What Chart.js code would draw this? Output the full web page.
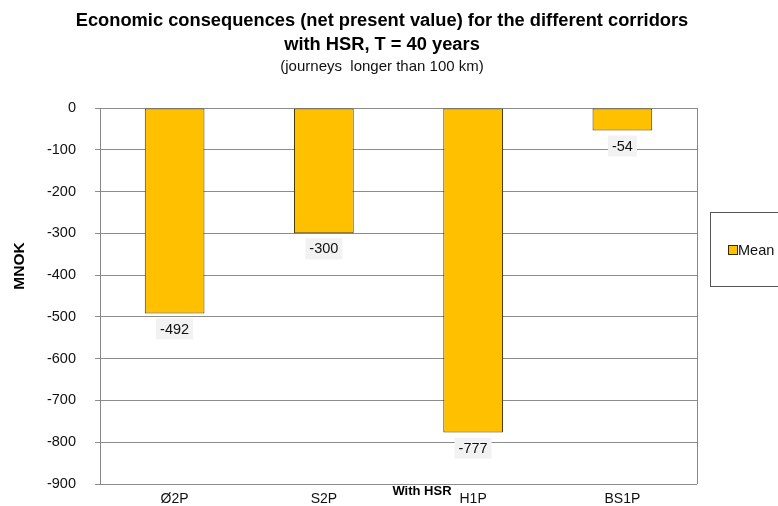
<!DOCTYPE html>
<html>
<head>
<meta charset="utf-8">
<script src="https://cdn.jsdelivr.net/npm/chart.js@4"></script>
<style>
  html, body { margin: 0; padding: 0; background: #fff; }
  #wrap { width: 778px; height: 506px; }
</style>
</head>
<body>
<div id="wrap"><canvas id="npvChart" width="778" height="506"></canvas></div>
<script>
// Données du graphique
const corridors = ["Ø2P", "S2P", "H1P", "BS1P"];
const meanValues = [-492, -300, -777, -54];
const seriesName = "Mean";
const titleLines = ["Economic consequences (net present value) for the different corridors", "with HSR, T = 40 years"];
const subtitleText = "(journeys  longer than 100 km)";

const FONT = "'Liberation Sans', Arial, sans-serif";

// Étiquettes de valeurs sous les barres (fond gris clair)
const valueLabels = {
    id: 'valueLabels',
    afterDatasetsDraw(chart) {
        const ctx = chart.ctx;
        const meta = chart.getDatasetMeta(0);
        ctx.save();
        ctx.font = "14.5px " + FONT;
        ctx.textAlign = 'center';
        ctx.textBaseline = 'middle';
        meta.data.forEach((bar, i) => {
            const txt = String(meanValues[i]);
            const w = ctx.measureText(txt).width + 8;
            const top = bar.y + 5;
            ctx.fillStyle = '#f2f2f2';
            ctx.fillRect(bar.x - w / 2, top, w, 21);
            ctx.fillStyle = '#111';
            ctx.fillText(txt, bar.x, top + 11);
        });
        ctx.restore();
    }
};

// Titres, cadre, légende et titres des axes
const extras = {
    id: 'extras',
    afterDraw(chart) {
        const ctx = chart.ctx;
        const a = chart.chartArea;
        ctx.save();
        // titre
        ctx.fillStyle = '#000';
        ctx.textAlign = 'center';
        ctx.textBaseline = 'middle';
        ctx.font = "bold 18.3px " + FONT;
        ctx.fillText(titleLines[0], 382, 21);
        ctx.fillText(titleLines[1], 382, 45);
        ctx.fillStyle = '#111';
        ctx.font = "15px " + FONT;
        ctx.fillText(subtitleText, 382, 67);

        // bordure droite du cadre
        ctx.strokeStyle = '#868686';
        ctx.lineWidth = 1;
        ctx.beginPath();
        ctx.moveTo(Math.round(a.right) + 0.5, a.top);
        ctx.lineTo(Math.round(a.right) + 0.5, a.bottom);
        ctx.stroke();

        // légende
        ctx.strokeStyle = '#555';
        ctx.strokeRect(710.5, 212.5, 80, 74);
        ctx.fillStyle = '#FFC000';
        ctx.fillRect(729, 246, 8, 8);
        ctx.strokeStyle = '#3a2a00';
        ctx.strokeRect(728.5, 245.5, 9, 9);
        ctx.fillStyle = '#111';
        ctx.font = "14.5px " + FONT;
        ctx.textAlign = 'left';
        ctx.fillText(seriesName, 738, 251);

        // titre de l'axe x
        ctx.fillStyle = '#000';
        ctx.font = "bold 13px " + FONT;
        ctx.textAlign = 'center';
        ctx.fillText("With HSR", 422, 491);

        // titre de l'axe y
        ctx.translate(20, 266);
        ctx.rotate(-Math.PI / 2);
        ctx.font = "bold 15.5px " + FONT;
        ctx.fillText("MNOK", 0, 0);
        ctx.restore();
    }
};

function initChart() {
    const ctx = document.getElementById("npvChart").getContext("2d");
    return new Chart(ctx, {
        type: 'bar',
        data: {
            labels: corridors,
            datasets: [{
                label: seriesName,
                data: meanValues,
                backgroundColor: '#FFC000',
                borderColor: '#4a3800',
                borderWidth: 1,
                borderSkipped: false,
                categoryPercentage: 1,
                barPercentage: 0.4
            }]
        },
        options: {
            responsive: false,
            animation: false,
            layout: { padding: { left: 0, right: 81, top: 108, bottom: 0 } },
            plugins: {
                legend: { display: false },
                tooltip: { enabled: false },
                title: { display: false }
            },
            scales: {
                x: {
                    afterFit(scale) { scale.height = 22; },
                    grid: { display: false, drawTicks: false },
                    border: { display: false },
                    ticks: { color: '#111', font: { family: FONT, size: 14 }, padding: 7 }
                },
                y: {
                    min: -900,
                    max: 0,
                    afterFit(scale) {
                        scale.width = 100;
                        scale.paddingTop = 0;
                        scale.paddingBottom = 0;
                    },
                    border: { color: '#868686', width: 1 },
                    grid: { color: '#8c8c8c', lineWidth: 1, tickLength: 5 },
                    ticks: {
                        stepSize: 100,
                        color: '#111',
                        font: { family: FONT, size: 14.5 },
                        padding: 19
                    },
                    title: { display: false }
                }
            }
        },
        plugins: [valueLabels, extras]
    });
}

document.addEventListener('DOMContentLoaded', function() {
    initChart();
});
</script>
</body>
</html>
